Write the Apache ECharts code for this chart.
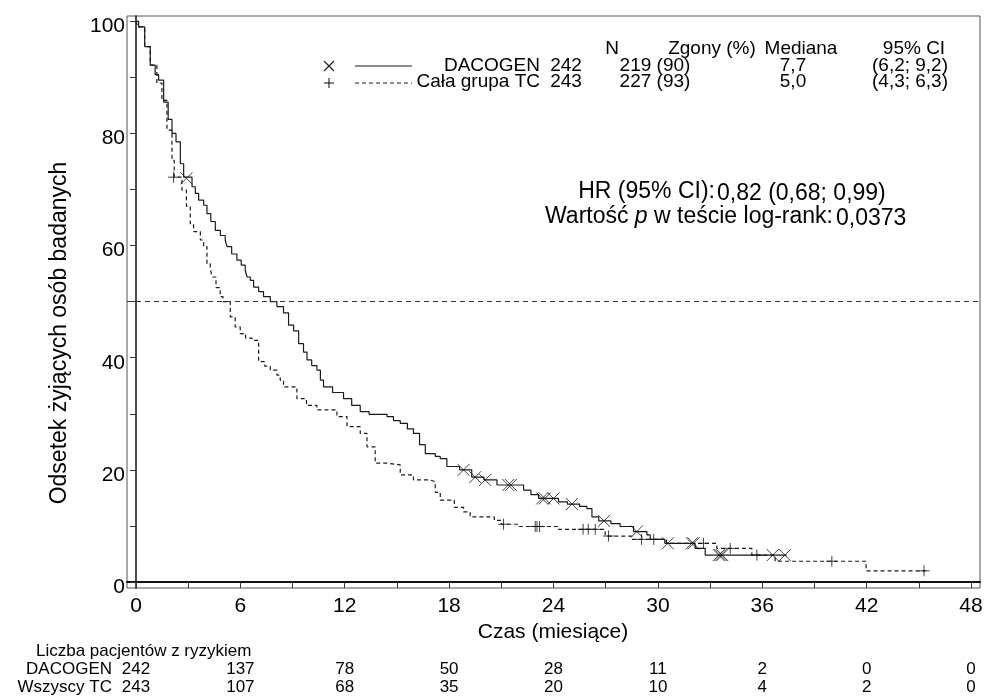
<!DOCTYPE html>
<html><head><meta charset="utf-8">
<script src="https://cdn.jsdelivr.net/npm/echarts@6/dist/echarts.min.js"></script>
<style>html,body{margin:0;padding:0;background:#fff}#c{width:987px;height:700px}</style>
</head><body><div id="c"></div>
<script>
// ---- data ----
const DAC_T = [0, 0.15, 0.5, 0.82, 1.1, 1.3, 1.59, 1.85, 2.07, 2.3, 2.55, 2.74, 3.22, 3.41, 3.6, 3.89, 4.08, 4.3, 4.56, 4.85, 5.13, 5.23, 5.5, 5.8, 6.05, 6.28, 6.38, 6.57, 6.76, 7.05, 7.33, 7.72, 8.1, 8.48, 8.77, 9.06, 9.35, 9.63, 9.83, 10.1, 10.4, 10.6, 10.78, 11.3, 11.93, 12.4, 12.89, 13.4, 14.43, 14.8, 15.19, 15.6, 15.95, 16.3, 16.63, 17.2, 17.49, 17.87, 18.6, 19.3, 20.0, 20.75, 22.28, 22.7, 23.14, 24.29, 24.8, 25.5, 25.92, 26.21, 26.6, 27.3, 27.83, 28.6, 29.37, 29.56, 30.4, 32.14, 32.72, 37.4];
const DAC_S = [100, 99, 95.5, 92.2, 90.5, 89.5, 85.6, 82.5, 80.0, 78.5, 74.6, 72.2, 70.5, 69.3, 68.1, 67.2, 65.7, 64.3, 62.7, 61.8, 61.0, 59.8, 58.5, 57.4, 56.5, 55.6, 54.4, 53.8, 52.6, 51.8, 50.9, 50.0, 49.1, 48.0, 45.8, 44.8, 42.5, 41.0, 39.6, 38.6, 37.8, 36.0, 34.8, 33.8, 32.7, 31.5, 30.4, 29.9, 29.5, 28.8, 28.3, 27.3, 26.5, 24.5, 22.9, 22.4, 22.0, 20.6, 20.0, 18.7, 18.2, 17.3, 16.4, 15.6, 14.9, 14.3, 13.9, 13.5, 13.1, 11.6, 10.9, 10.4, 9.9, 9.0, 8.4, 7.6, 6.9, 6.0, 4.8, 4.8];
const TC_T = [0, 0.1, 0.5, 0.82, 1.2, 1.49, 1.78, 2.07, 2.2, 2.64, 2.9, 3.12, 3.31, 3.7, 3.89, 4.08, 4.27, 4.37, 4.6, 4.84, 5.0, 5.42, 5.7, 5.99, 6.3, 6.67, 7.05, 7.4, 7.72, 8.1, 8.29, 8.48, 9.25, 9.8, 10.4, 11.55, 12.13, 12.89, 13.28, 13.75, 14.43, 15.19, 15.95, 16.91, 17.2, 17.49, 18.3, 18.83, 19.21, 20.6, 21.0, 22.0, 24.29, 26.97, 28.5, 30.5, 33.39, 35.4, 36.74, 41.97, 45.4];
const TC_S = [100, 99, 95.5, 92.2, 89.0, 85.9, 80.6, 75.2, 72.2, 69.9, 67.0, 63.9, 62.5, 61.0, 59.8, 56.8, 55.9, 54.4, 52.5, 50.9, 50.0, 47.3, 45.5, 44.3, 43.5, 43.1, 39.3, 38.5, 37.8, 36.9, 36.0, 34.8, 32.7, 31.5, 30.7, 29.5, 27.7, 26.5, 24.1, 21.2, 20.9, 19.1, 18.2, 17.9, 16.0, 14.6, 13.3, 12.5, 11.6, 11.0, 10.3, 9.9, 9.4, 8.2, 7.6, 6.9, 6.0, 4.8, 3.7, 2.0, 2.0];
const DAC_CENS_T = [2.9, 18.83, 19.5, 20.07, 21.4, 21.55, 23.35, 23.5, 24.0, 25.06, 26.9, 28.79, 30.57, 31.95, 32.05, 33.5, 33.6, 33.7, 36.6, 37.3];
const DAC_CENS_S = [72.0, 20.0, 18.7, 18.2, 17.3, 17.3, 14.9, 14.9, 14.9, 13.9, 10.9, 9.0, 6.9, 6.9, 6.9, 4.8, 4.8, 4.8, 4.8, 4.8];
const TC_CENS_T = [2.16, 21.13, 22.95, 23.05, 23.2, 25.7, 26.0, 26.4, 27.16, 29.06, 29.76, 32.62, 34.16, 35.69, 40.0, 45.3];
const TC_CENS_S = [72.2, 10.3, 9.9, 9.9, 9.9, 9.4, 9.4, 9.4, 8.2, 7.6, 7.6, 6.9, 6.0, 4.8, 3.7, 2.0];
const X_TICKS = [0, 3, 6, 9, 12, 15, 18, 21, 24, 27, 30, 33, 36, 39, 42, 45, 48];
const X_LABELS = [0, 6, 12, 18, 24, 30, 36, 42, 48];
const Y_TICKS = [0, 10, 20, 30, 40, 50, 60, 70, 80, 90, 100];
const Y_LABELS = [0, 20, 40, 60, 80, 100];
const RISK_TIMES = [0, 6, 12, 18, 24, 30, 36, 42, 48];
const RISK_DAC = [242, 137, 78, 50, 28, 11, 2, 0, 0];
const RISK_TC = [243, 107, 68, 35, 20, 10, 4, 2, 0];
const LEG_HEAD = ['N', 'Zgony (%)', 'Mediana', '95% CI'];
const LEG_DAC = ['DACOGEN', '242', '219 (90)', '7,7', '(6,2; 9,2)'];
const LEG_TC = ['Cała grupa TC', '243', '227 (93)', '5,0', '(4,3; 6,3)'];
const REF_LINE = 50;

const FONT = 'Liberation Sans, Arial, sans-serif';
const X_PATH = 'path://M0,0L10,10M10,0L0,10';
const P_PATH = 'path://M5,0L5,10M0,5L10,5';

const chart = echarts.init(document.getElementById('c'), null, {renderer: 'canvas'});
const zip = (a, b) => a.map((v, i) => [v, b[i]]);

chart.setOption({
  animation: false,
  backgroundColor: '#fff',
  grid: {left: 127, top: 16, width: 853, height: 572, show: true, borderColor: '#555', borderWidth: 1, containLabel: false},
  xAxis: {
    type: 'value', min: -0.517, max: 48.517,
    axisLine: {lineStyle: {color: '#111', width: 2}},
    axisTick: {show: true, customValues: X_TICKS, length: 6, lineStyle: {color: '#333', width: 1}},
    axisLabel: {customValues: X_LABELS, color: '#000', fontFamily: FONT, fontSize: 21, margin: 8},
    splitLine: {show: false}
  },
  yAxis: {
    type: 'value', min: -1.07, max: 100.95,
    axisLine: {show: true, lineStyle: {color: '#111', width: 1.5}},
    axisTick: {show: true, customValues: Y_TICKS, length: 6, lineStyle: {color: '#333', width: 1}},
    axisLabel: {show: false},
    splitLine: {show: false}
  },
  series: [
    {type: 'line', step: 'end', data: zip(DAC_T, DAC_S), showSymbol: false, lineStyle: {color: '#1a1a1a', width: 1.2}, z: 3,
     markLine: {silent: true, symbol: 'none', label: {show: false}, lineStyle: {color: '#333', type: [5, 4], width: 1}, data: [{yAxis: REF_LINE}]}},
    {type: 'line', step: 'end', data: zip(TC_T, TC_S), showSymbol: false, lineStyle: {color: '#1a1a1a', width: 1.2, type: [4, 3]}, z: 3},
    {type: 'scatter', data: zip(DAC_CENS_T, DAC_CENS_S), symbol: X_PATH, symbolSize: 12,
     itemStyle: {color: 'rgba(0,0,0,0)', borderColor: '#111', borderWidth: 1}, z: 4},
    {type: 'scatter', data: zip(TC_CENS_T, TC_CENS_S), symbol: P_PATH, symbolSize: 11,
     itemStyle: {color: 'rgba(0,0,0,0)', borderColor: '#111', borderWidth: 1}, z: 4}
  ]
});

function txt(x, y, s, opt) {
  return {type: 'text', x: x, y: y, silent: true, z: 10,
    style: Object.assign({text: s, fill: '#000', font: '19px ' + FONT, textAlign: 'left', textVerticalAlign: 'middle'}, opt || {})};
}
function seg(x1, y1, x2, y2, dash) {
  return {type: 'line', silent: true, z: 10, shape: {x1: x1, y1: y1, x2: x2, y2: y2},
    style: {stroke: '#1a1a1a', lineWidth: 1.1, lineDash: dash || null}};
}
const g = [];
// y tick labels (drawn a few px below their ticks, like the reference)
Y_LABELS.forEach(v => {
  const py = chart.convertToPixel({yAxisIndex: 0}, v);
  g.push(txt(125, py + 5, String(v), {textAlign: 'right', font: '21px ' + FONT}));
});
// legend header & rows
const colX = [612, 712, 801, 914];
LEG_HEAD.forEach((s, i) => g.push(txt(colX[i], 49, s, {textAlign: 'center'})));
const rowCols = [[540, 'right'], [566, 'center'], [655, 'center'], [793, 'center'], [910, 'center']];
LEG_DAC.forEach((s, i) => g.push(txt(rowCols[i][0], 66, s, {textAlign: rowCols[i][1]})));
LEG_TC.forEach((s, i) => g.push(txt(rowCols[i][0], 82, s, {textAlign: rowCols[i][1]})));
// legend symbols and line samples
g.push(seg(324, 61, 334, 71), seg(334, 61, 324, 71));
g.push(seg(329, 78, 329, 88), seg(324, 83, 334, 83));
g.push(seg(355, 66, 412, 66));
g.push(seg(355, 83, 412, 83, [4, 3]));
// HR text
const F23 = '23px ' + FONT;
g.push(txt(715, 192, 'HR (95% CI):', {textAlign: 'right', font: F23}));
g.push(txt(717, 194, '0,82 (0,68; 0,99)', {font: F23}));
g.push({type: 'text', x: 833, y: 217, silent: true, z: 10, style: {text: '{a|Wartość }{i|p}{a| w teście log-rank:}', textAlign: 'right', textVerticalAlign: 'middle',
  rich: {a: {font: F23, fill: '#000'}, i: {font: 'italic ' + F23, fill: '#000'}}}});
g.push(txt(836, 219, '0,0373', {font: F23}));
// axis titles
g.push({type: 'text', silent: true, z: 10, x: 60, y: 333, rotation: Math.PI / 2,
  style: {text: 'Odsetek żyjących osób badanych', font: F23, fill: '#000', textAlign: 'center', textVerticalAlign: 'middle'}});
g.push(txt(553, 632, 'Czas (miesiące)', {textAlign: 'center', font: '21px ' + FONT}));
// at-risk table
const FR = '17px ' + FONT;
g.push(txt(36, 651, 'Liczba pacjentów z ryzykiem', {font: FR}));
g.push(txt(112, 669, 'DACOGEN', {textAlign: 'right', font: FR}));
g.push(txt(112, 687, 'Wszyscy TC', {textAlign: 'right', font: FR}));
RISK_TIMES.forEach((t, i) => {
  const px = chart.convertToPixel({xAxisIndex: 0}, t);
  g.push(txt(px, 669, String(RISK_DAC[i]), {textAlign: 'center', font: FR}));
  g.push(txt(px, 687, String(RISK_TC[i]), {textAlign: 'center', font: FR}));
});
chart.setOption({graphic: g});
</script></body></html>
